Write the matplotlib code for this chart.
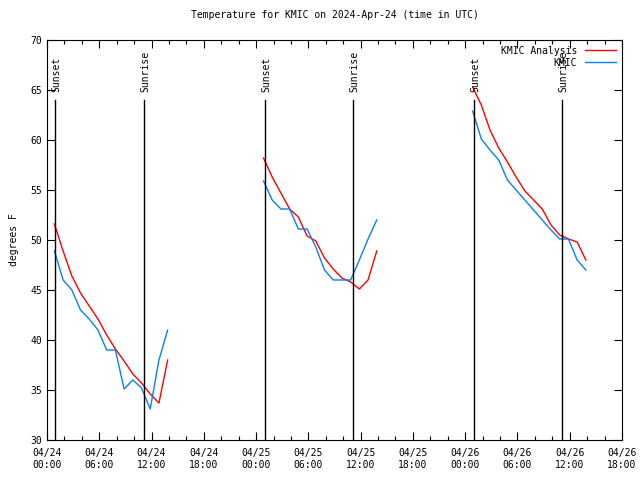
import matplotlib
matplotlib.use("Agg")
import matplotlib.pyplot as plt
import numpy as np

# hours since 2024-04-24 00:00 UTC
t1 = [0.85 + k for k in range(14)]
t2 = [24.85 + k for k in range(14)]
t3 = [48.85 + k for k in range(14)]

analysis1 = [51.6, 48.9, 46.4, 44.7, 43.4, 42.1, 40.5, 39.1, 37.9, 36.6, 35.7, 34.6, 33.7, 38.0]
analysis2 = [58.2, 56.3, 54.7, 53.1, 52.3, 50.4, 49.9, 48.2, 47.1, 46.2, 45.8, 45.1, 46.0, 48.9]
analysis3 = [65.3, 63.5, 61.0, 59.2, 57.8, 56.3, 54.9, 54.0, 53.1, 51.5, 50.5, 50.1, 49.8, 48.0]

obs1 = [48.9, 46.0, 45.0, 43.0, 42.1, 41.0, 39.0, 39.0, 35.1, 36.0, 35.2, 33.1, 38.0, 41.0]
obs2 = [55.9, 54.0, 53.1, 53.1, 51.1, 51.1, 49.3, 47.0, 46.0, 46.0, 46.0, 48.0, 50.1, 52.0]
obs3 = [62.9, 60.1, 59.0, 58.0, 56.0, 55.0, 54.0, 53.0, 52.0, 51.0, 50.1, 50.1, 48.0, 47.0]

sunsets = [0.92, 25.03, 49.02]
sunrises = [11.14, 35.13, 59.13]

tick_hours = list(range(0, 67, 6))
tick_labels = ["04/24\n00:00", "04/24\n06:00", "04/24\n12:00", "04/24\n18:00",
               "04/25\n00:00", "04/25\n06:00", "04/25\n12:00", "04/25\n18:00",
               "04/26\n00:00", "04/26\n06:00", "04/26\n12:00", "04/26\n18:00"]

plt.rcParams['font.family'] = ['DejaVu Sans Mono']
plt.rcParams['font.size'] = 7

fig = plt.figure(figsize=(6.4, 4.8), dpi=100)
ax = fig.add_axes([47 / 640, 40 / 480, 575 / 640, 400 / 480])

red = '#ff0000'
blue = '#0a80f0'
ax.plot(t1, analysis1, color=red, lw=1, label='KMIC Analysis')
ax.plot(t2, analysis2, color=red, lw=1)
ax.plot(t3, analysis3, color=red, lw=1)
ax.plot(t1, obs1, color=blue, lw=1, label='KMIC')
ax.plot(t2, obs2, color=blue, lw=1)
ax.plot(t3, obs3, color=blue, lw=1)

for x in sunsets:
    ax.plot([x, x], [30, 64], color='black', lw=1)
    ax.text(x + 0.15, 64.8, 'Sunset', rotation=90, ha='center', va='bottom')
for x in sunrises:
    ax.plot([x, x], [30, 64], color='black', lw=1)
    ax.text(x + 0.15, 64.8, 'Sunrise', rotation=90, ha='center', va='bottom')

ax.set_xlim(0, 66)
ax.set_ylim(30, 70)
ax.set_xticks(tick_hours)
ax.set_xticklabels(tick_labels)
ax.set_xticks(range(0, 67, 2), minor=True)
ax.set_yticks(range(30, 71, 5))
ax.tick_params(direction='in', top=True, right=True, length=6, width=0.8)
ax.tick_params(which='minor', direction='in', top=True, length=3, width=0.8)
ax.tick_params(axis='x', pad=6)

ax.set_ylabel('degrees F')
ax.yaxis.set_label_coords(-28 / 575, 0.5)
ax.set_title('Temperature for KMIC on 2024-Apr-24 (time in UTC)', fontsize=7, pad=16)

leg = ax.legend(loc='upper right', frameon=False, markerfirst=False,
                handlelength=3.2, borderaxespad=0.2, labelspacing=0.2)
for txt in leg.get_texts():
    txt.set_ha('right')

fig.savefig('out.png', dpi=100)
